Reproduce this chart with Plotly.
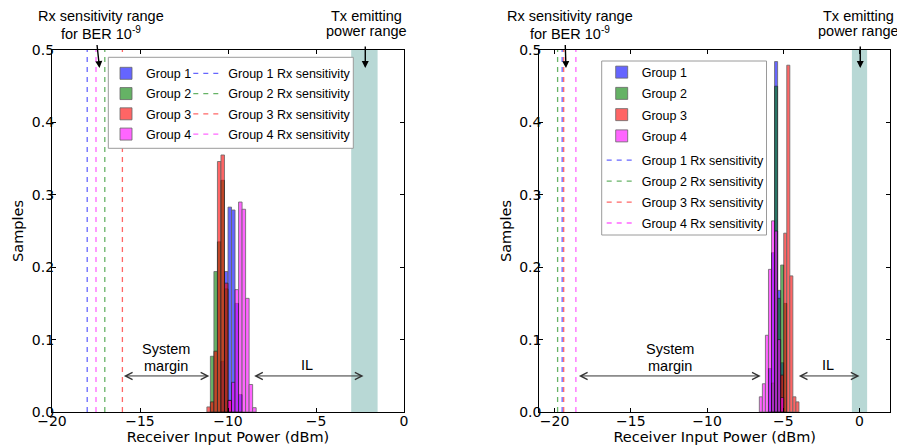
import plotly.graph_objects as go

# ---------------- data ----------------
group_names = ["Group 1", "Group 2", "Group 3", "Group 4"]
sens_names = ["Group 1 Rx sensitivity", "Group 2 Rx sensitivity",
              "Group 3 Rx sensitivity", "Group 4 Rx sensitivity"]

# Left panel histograms (bin centres, dBm) and sample fractions
left_g1_x = [-10.3, -10.1, -9.9, -9.7, -9.5, -9.3]
left_g1_y = [0.07, 0.194, 0.283, 0.279, 0.15, 0.024]
left_g2_x = [-10.9, -10.7, -10.5, -10.3, -10.1]
left_g2_y = [0.077, 0.194, 0.235, 0.32, 0.17]
left_g3_x = [-11.1, -10.9, -10.7, -10.5, -10.3, -10.1, -9.9]
left_g3_y = [0.007, 0.014, 0.084, 0.346, 0.355, 0.178, 0.016]
left_g4_x = [-9.9, -9.7, -9.5, -9.3, -9.1, -8.9, -8.7, -8.5]
left_g4_y = [0.016, 0.041, 0.169, 0.29, 0.28, 0.157, 0.038, 0.006]
left_sens = [-18.0, -17.0, -16.0, -17.5]
left_tx_range = [-3.0, -1.5]

# Right panel histograms
right_g1_x = [-5.87, -5.67, -5.47, -5.27, -5.07]
right_g1_y = [0.06, 0.22, 0.484, 0.168, 0.068]
right_g2_x = [-5.67, -5.47, -5.27, -5.07, -4.87]
right_g2_y = [0.04, 0.45, 0.157, 0.203, 0.15]
right_g3_x = [-5.07, -4.87, -4.67, -4.47, -4.27, -4.07]
right_g3_y = [0.051, 0.247, 0.479, 0.188, 0.021, 0.014]
right_g4_x = [-6.47, -6.27, -6.07, -5.87, -5.67, -5.47, -5.27, -5.07]
right_g4_y = [0.021, 0.039, 0.106, 0.197, 0.264, 0.25, 0.1, 0.02]
right_sens = [-19.5, -19.8, -19.4, -18.6]
right_tx_range = [-0.5, 0.5]

bin_width = 0.2
x_ticks = [-20, -15, -10, -5, 0]
y_ticks = [0.0, 0.1, 0.2, 0.3, 0.4, 0.5]

# ---------------- style ----------------
bar_colors = ["#0000ff", "#008000", "#ff0000", "#ff00ff"]
line_colors = ["rgba(0,0,255,0.6)", "rgba(0,128,0,0.6)",
               "rgba(255,0,0,0.6)", "rgba(255,0,255,0.6)"]
TICK_FONT = dict(family="DejaVu Sans", size=14, color="black")
TITLE_FONT = dict(family="DejaVu Sans", size=14.5, color="black")
TXT_FONT = dict(family="Liberation Sans", size=14.5, color="black")
LEG_FONT = dict(family="Liberation Sans", size=12.5, color="black")

# page body has an 8px margin: figure drawn at (8, 8) in the window
OFF = 8
FW, FH = 905 - OFF, 448 - OFF
T_M = 50 - OFF
B_M = FH - (412 - OFF)
PH = FH - T_M - B_M


def px(sx):
    return (sx - OFF) / FW


def py(sy):
    return (FH - B_M - (sy - OFF)) / PH


fig = go.Figure()

left_hist = [(left_g1_x, left_g1_y), (left_g2_x, left_g2_y),
             (left_g3_x, left_g3_y), (left_g4_x, left_g4_y)]
right_hist = [(right_g1_x, right_g1_y), (right_g2_x, right_g2_y),
              (right_g3_x, right_g3_y), (right_g4_x, right_g4_y)]

# Left panel
for i, (xs, ys) in enumerate(left_hist):
    fig.add_trace(go.Bar(x=xs, y=ys, width=bin_width, name=group_names[i],
                         marker=dict(color=bar_colors[i], line=dict(color="black", width=0.8)),
                         opacity=0.6, xaxis="x", yaxis="y",
                         legend="legend", legendgroup="lg%d" % i))
for i, v in enumerate(left_sens):
    fig.add_trace(go.Scatter(x=[v, v], y=[0, 0.5], mode="lines", name=sens_names[i],
                             line=dict(color=line_colors[i], width=1.3, dash="5px,5px"),
                             xaxis="x", yaxis="y", legend="legend2",
                             legendgroup="ls%d" % i))
# Right panel
for i, (xs, ys) in enumerate(right_hist):
    fig.add_trace(go.Bar(x=xs, y=ys, width=bin_width, name=group_names[i],
                         marker=dict(color=bar_colors[i], line=dict(color="black", width=0.8)),
                         opacity=0.6, xaxis="x2", yaxis="y2",
                         legend="legend3", legendgroup="rg%d" % i))
for i, v in enumerate(right_sens):
    fig.add_trace(go.Scatter(x=[v, v], y=[0, 0.5], mode="lines", name=sens_names[i],
                             line=dict(color=line_colors[i], width=1.3, dash="5px,5px"),
                             xaxis="x2", yaxis="y2", legend="legend4",
                             legendgroup="rs%d" % i))

axis_common = dict(showline=True, linecolor="black", linewidth=1.2, mirror="ticks",
                   ticks="inside", ticklen=4, tickwidth=1, tickcolor="black",
                   showgrid=False, zeroline=False, tickfont=TICK_FONT, automargin=False)
xcommon = dict(ticklabelstandoff=-4, **axis_common)
ycommon = dict(ticklabelstandoff=-6, **axis_common)

fig.update_layout(
    width=FW, height=FH, barmode="overlay",
    plot_bgcolor="white", paper_bgcolor="white",
    font=dict(family="Liberation Sans", color="black"),
    margin=dict(l=0, r=0, t=T_M, b=B_M, autoexpand=False),
    xaxis=dict(domain=[px(52), px(404)], range=[-20, 0], tickvals=x_ticks, anchor="y",
               title=dict(text="Receiver Input Power (dBm)", font=TITLE_FONT, standoff=3),
               **xcommon),
    yaxis=dict(domain=[0, 1], range=[0, 0.5], tickvals=y_ticks, tickformat=".1f", anchor="x",
               title=dict(text="Samples", font=TITLE_FONT, standoff=4),
               **ycommon),
    xaxis2=dict(domain=[px(539.3), px(890)], range=[-21, 2], tickvals=x_ticks, anchor="y2",
                title=dict(text="Receiver Input Power (dBm)", font=TITLE_FONT, standoff=3),
                **xcommon),
    yaxis2=dict(domain=[0, 1], range=[0, 0.5], tickvals=y_ticks, tickformat=".1f", anchor="x2",
                title=dict(text="Samples", font=TITLE_FONT, standoff=4),
                **ycommon),
    legend=dict(x=px(106), y=py(58.7), xanchor="left", yanchor="top", font=LEG_FONT,
                bgcolor="rgba(0,0,0,0)", tracegroupgap=1),
    legend2=dict(x=px(188.3), y=py(58.7), xanchor="left", yanchor="top", font=LEG_FONT,
                 bgcolor="rgba(0,0,0,0)", tracegroupgap=1),
    legend3=dict(x=px(601.7), y=py(57.5), xanchor="left", yanchor="top", font=LEG_FONT,
                 bgcolor="rgba(0,0,0,0)", tracegroupgap=2.0),
    legend4=dict(x=px(601.7), y=py(145.5), xanchor="left", yanchor="top", font=LEG_FONT,
                 bgcolor="rgba(0,0,0,0)", tracegroupgap=1.7),
)

# Tx emitting power range shading
fig.add_shape(type="rect", xref="x", yref="y", x0=left_tx_range[0], x1=left_tx_range[1],
              y0=0, y1=0.5, fillcolor="#b8d8d5", line=dict(width=0), layer="below")
fig.add_shape(type="rect", xref="x2", yref="y2", x0=right_tx_range[0], x1=right_tx_range[1],
              y0=0, y1=0.5, fillcolor="#b8d8d5", line=dict(width=0), layer="below")

# Legend boxes
fig.add_shape(type="rect", xref="paper", yref="paper", x0=px(108.3), x1=px(353.3),
              y0=py(148.3), y1=py(57.3), fillcolor="white", line=dict(color="#9a9a9a", width=1),
              layer="above")
fig.add_shape(type="rect", xref="paper", yref="paper", x0=px(601.7), x1=px(766.5),
              y0=py(235), y1=py(61), fillcolor="white", line=dict(color="#9a9a9a", width=1),
              layer="above")


def text(xref, yref, x, y, s):
    fig.add_annotation(xref=xref, yref=yref, x=x, y=y, text=s, showarrow=False,
                       font=TXT_FONT, xanchor="center", yanchor="middle")


def arrow(xref, yref, x0, y0, x1, y1, both=False):
    fig.add_annotation(xref=xref, yref=yref, axref=xref, ayref=yref, x=x1, y=y1, ax=x0, ay=y0,
                       text="", showarrow=True,
                       arrowhead=5 if both else 2, startarrowhead=5,
                       arrowside="end+start" if both else "end",
                       arrowsize=1.4 if both else 1.0, startarrowsize=1.4,
                       arrowwidth=1 if both else 1.4,
                       arrowcolor="#333333" if both else "black")


for xr, yr, rx_x, tx_x, sm_x, il_x, sm_a, sm_b, il_a, il_b in [
    ("x", "y", -17.2, -2.15, -13.54, -5.5, -16.0, -11.06, -8.6, -2.3),
    ("x2", "y2", -19.0, -0.05, -12.46, -2.05, -18.5, -6.48, -4.08, 0.0),
]:
    text(xr, "paper", rx_x, py(15.5), "Rx sensitivity range")
    text(xr, "paper", rx_x, py(32.5), "for BER 10<sup>-9</sup>")
    text(xr, "paper", tx_x, py(15.5), "Tx emitting")
    text(xr, "paper", tx_x, py(31), "power range")
    text(xr, yr, sm_x, 0.0867, "System")
    text(xr, yr, sm_x, 0.0632, "margin")
    text(xr, yr, il_x, 0.0646, "IL")
    arrow(xr, yr, sm_a, 0.0498, sm_b, 0.0498, both=True)
    arrow(xr, yr, il_a, 0.0498, il_b, 0.0498, both=True)

arrow("x", "y", -17.45, 0.509, -17.3, 0.475)
arrow("x", "y", -2.2, 0.507, -2.2, 0.475)
arrow("x2", "y2", -19.3, 0.509, -19.25, 0.475)
arrow("x2", "y2", 0.05, 0.507, 0.05, 0.475)

fig.write_html("out.html")
